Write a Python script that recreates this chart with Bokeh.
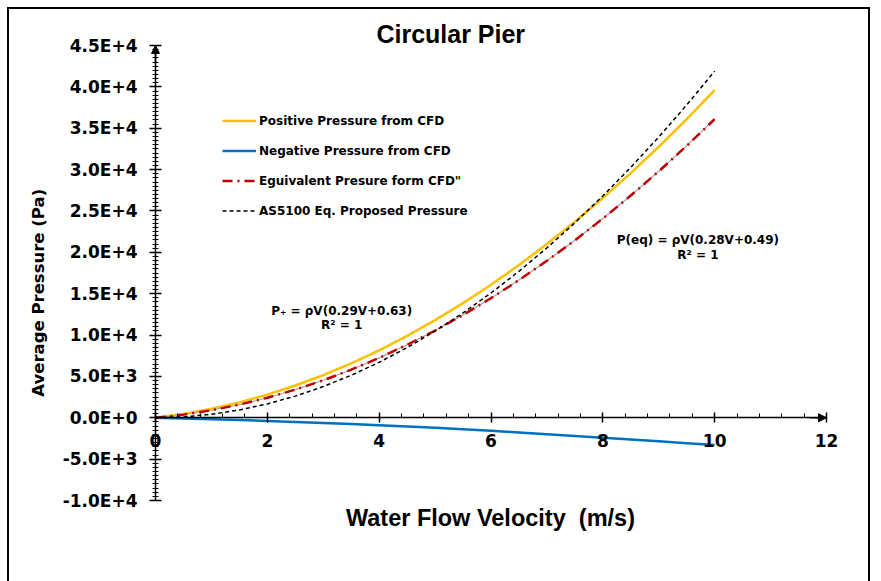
from bokeh.plotting import figure
from bokeh.models import (Label, SingleIntervalTicker, Arrow, NormalHead, Range1d)
from bokeh.embed import file_html
from bokeh.resources import INLINE

# ---- data ----
velocity = [0, 0.5, 1, 1.5, 2, 2.5, 3, 3.5, 4, 4.5, 5, 5.5, 6, 6.5, 7, 7.5, 8, 8.5, 9, 9.5, 10]
positive = [0, 460, 1080, 1860, 2800, 3900, 5160, 6580, 8160, 9900, 11800, 13860, 16080,
            18460, 21000, 23700, 26560, 29580, 32760, 36100, 39600]
negative = [0, -80, -170, -270, -380, -500, -620, -760, -900, -1060, -1220, -1400, -1580,
            -1780, -1980, -2200, -2420, -2630, -2850, -3070, -3300]
equivalent = [0, 380, 910, 1590, 2420, 3400, 4530, 5810, 7240, 8820, 10550, 12430, 14460,
              16640, 18970, 21450, 24080, 26860, 29790, 32870, 36100]
as5100 = [0, 105, 419, 943, 1676, 2619, 3771, 5133, 6704, 8485, 10475, 12675, 15084,
          17703, 20531, 23569, 26816, 30273, 33939, 37815, 41900]

series_names = ["Positive Pressure from CFD", "Negative Pressure from CFD",
                "Eguivalent Presure form CFD\"", "AS5100 Eq. Proposed Pressure"]

y_ticks = [-10000, -5000, 0, 5000, 10000, 15000, 20000, 25000, 30000, 35000, 40000, 45000]
y_tick_labels = ["-1.0E+4", "-5.0E+3", "0.0E+0", "5.0E+3", "1.0E+4", "1.5E+4",
                 "2.0E+4", "2.5E+4", "3.0E+4", "3.5E+4", "4.0E+4", "4.5E+4"]
x_axis_min, x_axis_max = 0, 12
y_axis_min, y_axis_max = -10000, 45000

# ---- layout: the frame fills the whole canvas, axes are drawn inside it ----
W, H = 863, 600
x_scale = 671 / 12.0            # px per m/s
y_scale = 455 / 55000.0         # px per Pa
x0 = -146 / x_scale
x1 = x0 + W / x_scale
y1 = y_axis_max + 36 / y_scale
y0 = y1 - H / y_scale

TICK_FONT = "DejaVu Sans"
NARROW_FONT = "Liberation Sans"

p = figure(width=W, height=H, output_backend="svg", toolbar_location=None,
           x_range=Range1d(x0, x1), y_range=Range1d(y0, y1),
           min_border_left=0, min_border_right=0, min_border_top=0, min_border_bottom=0)
p.margin = (7, 0, 0, 7)
p.styles = {"border": "2px solid black"}
p.outline_line_color = None
p.grid.visible = False
p.background_fill_color = "white"
p.border_fill_color = "white"

# trendline (thin) under positive
p.line(velocity, positive, line_color="#555555", line_width=0.8)
# series
p.line(velocity, positive, line_color="#FFC000", line_width=2.5, legend_label=series_names[0])
p.line(velocity, negative, line_color="#0070C0", line_width=2.5, legend_label=series_names[1])
p.line(velocity, equivalent, line_color="#A6A6A6", line_width=1.2)
p.line(velocity, equivalent, line_color="#C00000", line_width=2.5, line_dash="10 5 2 5",
       legend_label=series_names[2])
p.line(velocity, as5100, line_color="black", line_width=1.5, line_dash="4 3",
       legend_label=series_names[3])

# axes
xa = p.xaxis[0]
xa.fixed_location = 0
xa.bounds = (x_axis_min, x_axis_max)
xa.ticker = SingleIntervalTicker(interval=2, num_minor_ticks=5)
xa.axis_line_width = 1.5
xa.major_tick_in = 5
xa.major_tick_out = 5
xa.minor_tick_in = 4
xa.minor_tick_out = 0
xa.major_tick_line_width = 1.5
xa.major_label_standoff = 11
xa.major_label_text_font = TICK_FONT
xa.major_label_text_font_style = "bold"
xa.major_label_text_font_size = "17px"
xa.major_label_text_color = "black"

ya = p.yaxis[0]
ya.fixed_location = 0
ya.bounds = (y_axis_min, y_axis_max)
ya.ticker = SingleIntervalTicker(interval=5000, num_minor_ticks=10)
ya.major_label_overrides = {t: l for t, l in zip(y_ticks, y_tick_labels)}
ya.axis_line_width = 1.5
ya.major_tick_in = 6
ya.major_tick_out = 6
ya.minor_tick_in = 3
ya.minor_tick_out = 3
ya.major_tick_line_width = 1.5
ya.major_label_standoff = 12
ya.major_label_text_font = TICK_FONT
ya.major_label_text_font_style = "bold"
ya.major_label_text_font_size = "17px"
ya.major_label_text_color = "black"

# arrow heads on axes
p.add_layout(Arrow(end=NormalHead(size=8, fill_color="black", line_color="black"),
                   x_start=x_axis_min, y_start=y_axis_max - 2000, x_end=x_axis_min,
                   y_end=y_axis_max, line_width=1.5, line_color="black"))
p.add_layout(Arrow(end=NormalHead(size=8, fill_color="black", line_color="black"),
                   x_start=x_axis_max - 0.3, y_start=0, x_end=x_axis_max, y_end=0,
                   line_width=1.5, line_color="black"))

# titles
p.add_layout(Label(x=5.28, y=46420, text="Circular Pier", text_align="center",
                   text_baseline="middle", text_font=NARROW_FONT, text_font_style="bold",
                   text_font_size="25px", text_color="black"))
p.add_layout(Label(x=5.99, y=-12090, text="Water Flow Velocity\u00a0 (m/s)", text_align="center",
                   text_baseline="middle", text_font=NARROW_FONT, text_font_style="bold",
                   text_font_size="23.5px", text_color="black"))
p.add_layout(Label(x=-2.09, y=15110, text="Average Pressure (Pa)", text_align="center",
                   text_baseline="middle", angle=1.5707963, text_font=TICK_FONT,
                   text_font_style="bold", text_font_size="16.5px", text_color="black"))

# equation annotations
for x, y, t in [(3.33, 12920, "P\u208a = \u03c1V(0.29V+0.63)"), (3.33, 11230, "R\u00b2 = 1"),
                (9.70, 21500, "P(eq) = \u03c1V(0.28V+0.49)"), (9.70, 19690, "R\u00b2 = 1")]:
    p.add_layout(Label(x=x, y=y, text=t, text_align="center", text_baseline="middle",
                       text_font=TICK_FONT, text_font_style="bold", text_font_size="12px",
                       text_color="black"))

# legend
lg = p.legend[0]
lg.location = (213, 385)
lg.border_line_color = None
lg.background_fill_alpha = 0
lg.padding = 0
lg.margin = 0
lg.spacing = 3
lg.label_height = 27
lg.glyph_height = 27
lg.glyph_width = 34
lg.label_standoff = 3
lg.label_text_font = TICK_FONT
lg.label_text_font_style = "bold"
lg.label_text_font_size = "12px"
lg.label_text_color = "black"

open("out.html", "w").write(file_html(p, INLINE))
